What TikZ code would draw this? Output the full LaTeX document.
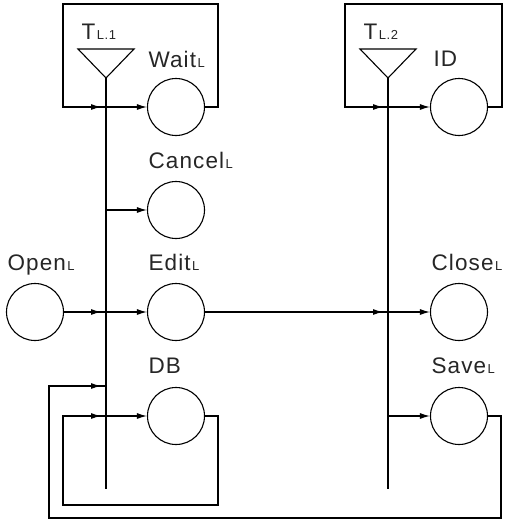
\documentclass[tikz,border=0pt]{standalone}
\usepackage{fontspec}
\setmainfont{Liberation Sans}[LetterSpace=5]
\usetikzlibrary{arrows.meta,decorations.markings}
\newcommand{\sublab}[2]{#1\hspace{1.5pt}{\fontsize{13}{13}\selectfont #2}}
\begin{document}
\begin{tikzpicture}[x=1pt,y=-1pt,line width=1.1pt,
  place/.style={circle,draw,minimum size=57pt,inner sep=0pt},
  lbl/.style={anchor=base west,inner sep=0pt,font=\fontsize{22.5}{22.5}\selectfont,text=black!85},
  tonode/.style={-{Latex[length=10pt,width=6pt]}},
  tobus/.style={postaction={decorate},decoration={markings,mark=at position -5pt with {\arrow{Latex[length=10pt,width=6pt]}}}}]
\useasboundingbox (0,0) rectangle (505,520);
% places
\node[place] (wait) at (176,107) {};
\node[place] (cancel) at (176,210) {};
\node[place] (edit) at (176,312) {};
\node[place] (db) at (176,416) {};
\node[place] (open) at (35,312) {};
\node[place] (id) at (459,107) {};
\node[place] (close) at (459,312) {};
\node[place] (save) at (459,416) {};
% labels
\node[lbl] (tl1) at (81,39) {\sublab{T}{L.1}};
\node[lbl] (lwait) at (148,67) {\sublab{Wait}{L}};
\node[lbl] (lcancel) at (148,168) {\sublab{Cancel}{L}};
\node[lbl] (lopen) at (7,270) {\sublab{Open}{L}};
\node[lbl] (ledit) at (148,270) {\sublab{Edit}{L}};
\node[lbl] (ldb) at (148,373) {DB};
\node[lbl] (tl2) at (363,39) {\sublab{T}{L.2}};
\node[lbl] (lid) at (433,66) {ID};
\node[lbl] (lclose) at (431,270) {\sublab{Close}{L}};
\node[lbl] (lsave) at (431,373) {\sublab{Save}{L}};
% transitions (triangles + buses)
\coordinate (apex1) at (106,78);
\coordinate (end1) at (106,489);
\coordinate (apex2) at (388,78);
\coordinate (end2) at (388,489);
\draw (78,49) -- (134,49) -- (apex1) -- cycle;
\draw (360,49) -- (416,49) -- (apex2) -- cycle;
\draw (apex1) -- (end1);
\draw (apex2) -- (end2);
\coordinate (j1a) at (106,107);
\coordinate (j1b) at (106,210);
\coordinate (j1c) at (106,312);
\coordinate (j1d) at (106,386);
\coordinate (j1e) at (106,416);
\coordinate (j2a) at (388,107);
\coordinate (j2c) at (388,312);
\coordinate (j2e) at (388,416);
% left side
\draw[tobus] (wait.east) -- (218,107) -- (218,4) -- (63,4) -- (63,107) -- (j1a);
\draw[tonode] (j1a) -- (wait);
\draw[tonode] (j1b) -- (cancel);
\draw[tobus] (open) -- (j1c);
\draw[tonode] (j1c) -- (edit);
\draw[tobus] (save.east) -- (501,416) -- (501,518) -- (49,518) -- (49,386) -- (j1d);
\draw[tobus] (db.east) -- (218,416) -- (218,505) -- (63,505) -- (63,416) -- (j1e);
\draw[tonode] (j1e) -- (db);
% right side
\draw[tobus] (id.east) -- (502,107) -- (502,4) -- (345,4) -- (345,107) -- (j2a);
\draw[tonode] (j2a) -- (id);
\draw[tobus] (edit) -- (j2c);
\draw[tonode] (j2c) -- (close);
\draw[tonode] (j2e) -- (save);
\end{tikzpicture}
\end{document}
